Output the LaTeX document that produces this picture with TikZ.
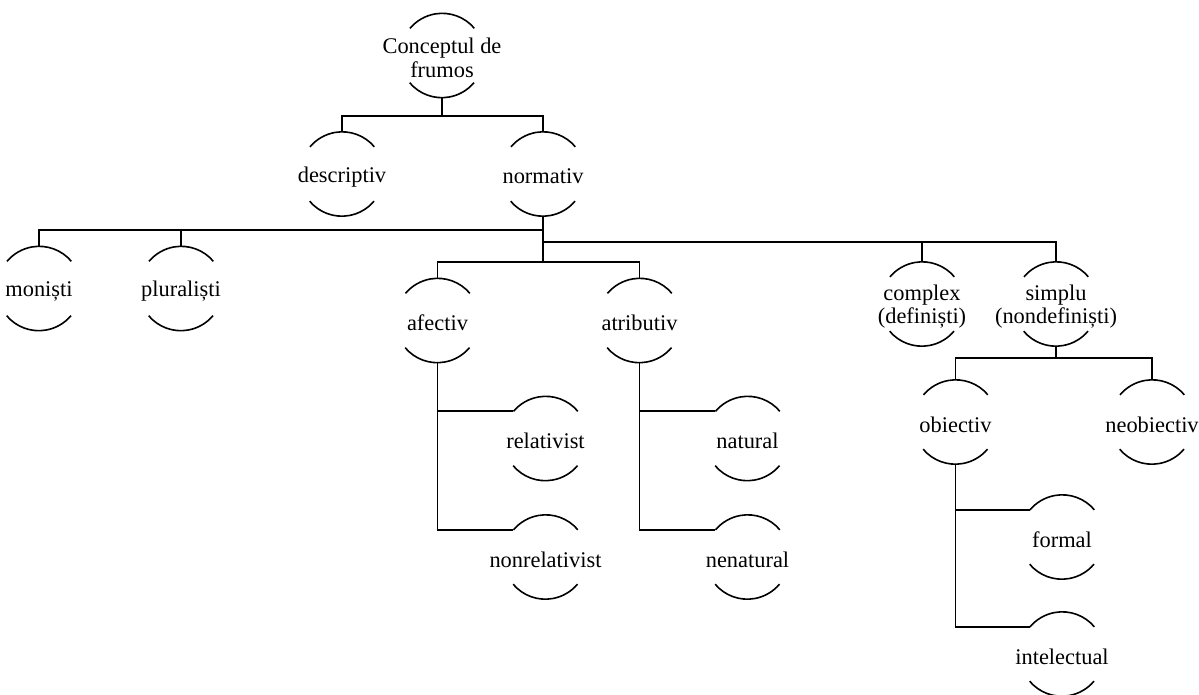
\documentclass[tikz,border=0pt]{standalone}
\usepackage{fontspec}
\setmainfont{Liberation Serif}
\tikzset{
  knot/.style={circle, minimum size=63pt, inner sep=0pt},
  every label/.style={align=center, inner sep=0pt, yshift=-2pt},
  link/.style={line width=1.3pt},
}
\begin{document}
\begin{tikzpicture}[x=0.75pt, y=0.75pt, font=\fontsize{16.8}{17.8}\selectfont]
\useasboundingbox (0,0) rectangle (1199,-694);
% root and first level
\node[knot, label={center:Conceptul de\\frumos}] (concept) at (442,-55.5) {};
\node[knot, label=center:descriptiv] (descr) at (342,-174) {};
\node[knot, label=center:normativ] (norm) at (543,-174) {};
% second level
\node[knot, label=center:moniști] (monist) at (39,-288.5) {};
\node[knot, label=center:pluraliști] (plural) at (181,-288.5) {};
\node[knot, label=center:afectiv] (afect) at (437.5,-320.5) {};
\node[knot, label=center:atributiv] (atrib) at (639.5,-320.5) {};
\node[knot, label={center:complex\\(definiști)}] (complex) at (922,-304) {};
\node[knot, label={center:simplu\\(nondefiniști)}] (simplu) at (1056,-304) {};
% third level
\node[knot, label=center:relativist] (relat) at (545.5,-438.5) {};
\node[knot, label=center:nonrelativist] (nonrel) at (545.5,-557) {};
\node[knot, label=center:natural] (natur) at (747.5,-438.5) {};
\node[knot, label=center:nenatural] (nenat) at (747.5,-557) {};
\node[knot, label=center:obiectiv] (obiect) at (955.5,-422) {};
\node[knot, label=center:neobiectiv] (neobiect) at (1152,-422) {};
\node[knot, label=center:formal] (formal) at (1062,-537) {};
\node[knot, label=center:intelectual] (intel) at (1062,-654) {};
% arcs above and below each term
\foreach \n in {concept,descr,norm,monist,plural,afect,atrib,complex,simplu,
                relat,nonrel,natur,nenat,obiect,neobiect,formal,intel}
  \draw[line width=1.2pt] (\n.40) arc[start angle=40, end angle=140, radius=31.5pt]
    (\n.220) arc[start angle=220, end angle=320, radius=31.5pt];
% connectors
\draw[link] (concept.south) -- ++(0,-18) -| (descr.north);
\draw[link] (concept.south) ++(0,-18) -| (norm.north);
\draw[link] (norm.south) -- ++(0,-14) -| (monist.north);
\draw[link] (norm.south) ++(0,-14) -| (plural.north);
\draw[link] (norm.south) -- ++(0,-26) -| (complex.north);
\draw[link] (norm.south) ++(0,-26) -| (simplu.north);
\draw[link] (norm.south) -- ++(0,-46) -| (afect.north);
\draw[link] (norm.south) ++(0,-46) -| (atrib.north);
\draw[link] (afect.south) |- (relat.140);
\draw[link] (afect.south) |- (nonrel.140);
\draw[link] (atrib.south) |- (natur.140);
\draw[link] (atrib.south) |- (nenat.140);
\draw[link] (simplu.south) -- ++(0,-12) -| (obiect.north);
\draw[link] (simplu.south) ++(0,-12) -| (neobiect.north);
\draw[link] (obiect.south) |- (formal.140);
\draw[link] (obiect.south) |- (intel.140);
\end{tikzpicture}
\end{document}
